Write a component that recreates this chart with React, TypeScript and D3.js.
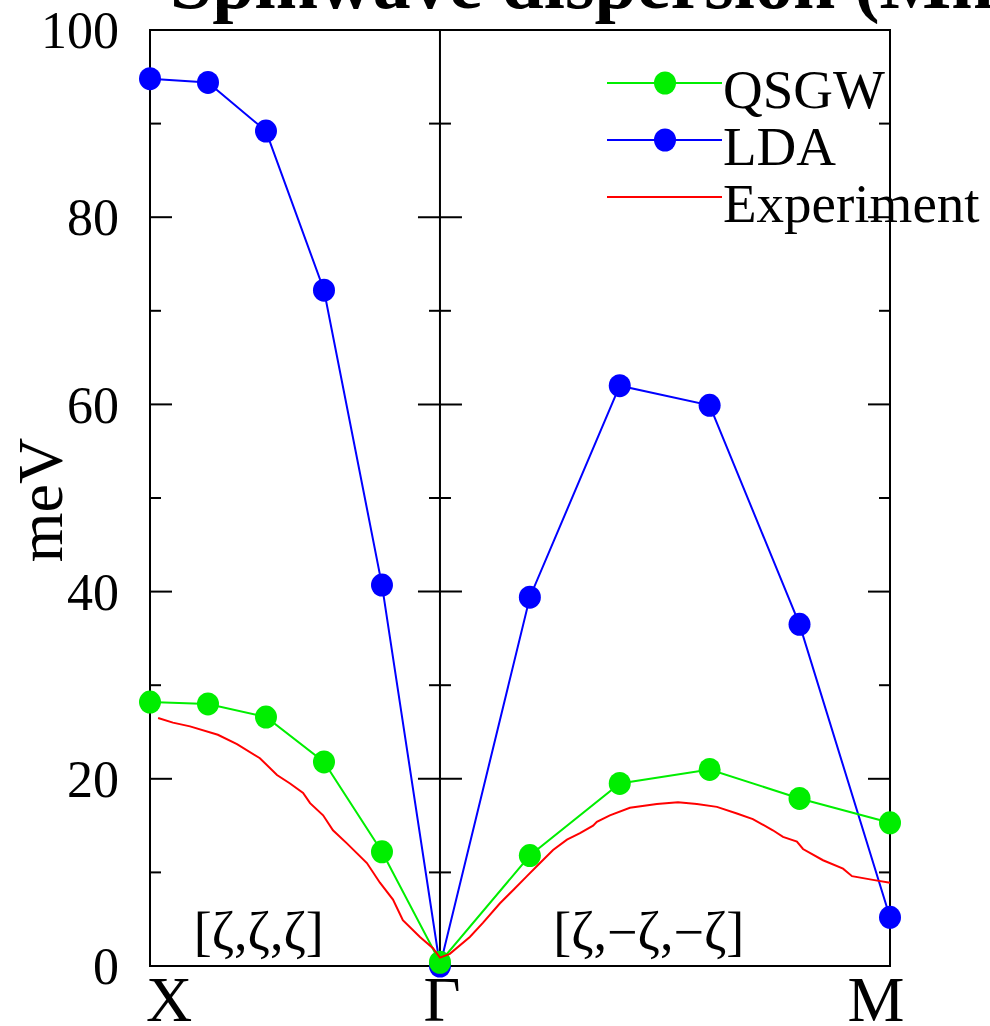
import { useRef, useEffect } from 'react';
import * as d3 from 'd3';

// path coordinate: X = 0, Gamma = 1, M = 2.552
const kPoints = [0, 0.2, 0.4, 0.6, 0.8, 1.0, 1.31, 1.62, 1.93, 2.24, 2.552];
const ldaValues = [94.8, 94.4, 89.2, 72.2, 40.7, 0.0, 39.4, 62.0, 59.9, 36.5, 5.2];
const qsgwValues = [28.2, 28.0, 26.6, 21.8, 12.2, 0.4, 11.8, 19.5, 21.0, 17.9, 15.3];

const expK = [0.028, 0.079, 0.138, 0.234, 0.300, 0.379, 0.438, 0.483, 0.528, 0.552, 0.597, 0.631,
  0.679, 0.748, 0.793, 0.838, 0.872, 0.931, 0.976, 1.0,
  1.034, 1.103, 1.148, 1.207, 1.252, 1.300, 1.345, 1.390, 1.438, 1.483, 1.528, 1.541, 1.586,
  1.655, 1.748, 1.821, 1.886, 1.955, 2.024, 2.079, 2.148, 2.183, 2.231, 2.252, 2.321, 2.390,
  2.421, 2.493, 2.552];
const expValues = [26.5, 26.0, 25.6, 24.7, 23.7, 22.2, 20.4, 19.5, 18.5, 17.4, 16.1, 14.5,
  13.1, 11.0, 8.9, 7.1, 4.9, 3.1, 1.9, 0.9,
  1.3, 3.1, 4.6, 6.7, 8.1, 9.6, 11.0, 12.4, 13.5, 14.2, 15.0, 15.4, 16.1,
  16.9, 17.3, 17.5, 17.3, 17.0, 16.3, 15.7, 14.5, 13.8, 13.3, 12.5, 11.3, 10.4,
  9.6, 9.2, 8.9];

const symmetryLabels = ['X', 'Γ', 'M'];
const symmetryK = [0, 1, 2.552];
const majorTicks = [0, 20, 40, 60, 80, 100];
const minorTicks = [10, 30, 50, 70, 90];
const directionLabels = ['[ζ,ζ,ζ]', '[ζ,−ζ,−ζ]'];
const directionK = [0.375, 1.72];
const legendNames = ['QSGW', 'LDA', 'Experiment'];
const legendColors = ['#00ee00', '#0000ff', '#ff0000'];

const FONT = '"Liberation Serif", "Times New Roman", serif';

function App() {
  const svgRef = useRef<SVGSVGElement>(null);

  useEffect(() => {
    const svg = d3.select(svgRef.current);
    svg.selectAll('*').remove();

    const left = 150, right = 890, top = 30, bottom = 966;

    const x = d3.scaleLinear().domain([0, 2.552]).range([left, right]);
    const y = d3.scaleLinear().domain([0, 100]).range([bottom, top]);

    const g = svg.append('g');

    // title (cut off at the top)
    g.append('text')
      .attr('x', 170).attr('y', 8)
      .attr('font-family', FONT).attr('font-weight', 'bold').attr('font-size', 76)
      .text('Spinwave dispersion (MnO)');

    // frame
    g.append('rect')
      .attr('x', left).attr('y', top)
      .attr('width', right - left).attr('height', bottom - top)
      .attr('fill', 'none').attr('stroke', '#000').attr('stroke-width', 2);

    // Gamma line
    g.append('line')
      .attr('x1', x(1)).attr('x2', x(1)).attr('y1', top).attr('y2', bottom)
      .attr('stroke', '#000').attr('stroke-width', 2);

    // ticks
    const tickSets = [
      { vals: majorTicks, len: 22 },
      { vals: minorTicks, len: 11 },
    ];
    tickSets.forEach(({ vals, len }) => {
      vals.forEach(v => {
        const yy = y(v);
        [[left, left + len], [x(1) - len, x(1) + len], [right - len, right]].forEach(([a, b]) => {
          g.append('line')
            .attr('x1', a).attr('x2', b).attr('y1', yy).attr('y2', yy)
            .attr('stroke', '#000').attr('stroke-width', 2);
        });
      });
    });

    // y tick labels
    g.selectAll('.ylab')
      .data(majorTicks)
      .enter()
      .append('text')
      .attr('x', 119).attr('y', d => y(d)).attr('dy', '0.35em')
      .attr('text-anchor', 'end')
      .attr('font-family', FONT).attr('font-size', 52)
      .text(d => d);

    // y axis label
    g.append('text')
      .attr('transform', 'translate(62,500) rotate(-90)')
      .attr('text-anchor', 'middle')
      .attr('font-family', FONT).attr('font-size', 64)
      .text('meV');

    // symmetry point labels
    const symOffset = [19, 2, -14];
    g.selectAll('.xlab')
      .data(symmetryLabels)
      .enter()
      .append('text')
      .attr('x', (d, i) => x(symmetryK[i]) + symOffset[i]).attr('y', 1021)
      .attr('text-anchor', 'middle')
      .attr('font-family', FONT).attr('font-size', 64)
      .text(d => d);

    // direction labels
    g.selectAll('.dirlab')
      .data(directionLabels)
      .enter()
      .append('text')
      .attr('x', (d, i) => x(directionK[i])).attr('y', 950)
      .attr('text-anchor', 'middle')
      .attr('font-family', FONT).attr('font-size', 54)
      .text(d => d);

    const line = d3.line<[number, number]>()
      .x(d => x(d[0])).y(d => y(d[1]));

    const ldaData = kPoints.map((k, i) => [k, ldaValues[i]] as [number, number]);
    const qsgwData = kPoints.map((k, i) => [k, qsgwValues[i]] as [number, number]);
    const expData = expK.map((k, i) => [k, expValues[i]] as [number, number]);

    // LDA
    g.append('path').datum(ldaData)
      .attr('d', line).attr('fill', 'none')
      .attr('stroke', legendColors[1]).attr('stroke-width', 2);
    g.selectAll('.lda')
      .data(ldaData)
      .enter()
      .append('ellipse')
      .attr('cx', d => x(d[0])).attr('cy', d => y(d[1]))
      .attr('rx', 11).attr('ry', 11.5)
      .attr('fill', legendColors[1]);

    // QSGW
    g.append('path').datum(qsgwData)
      .attr('d', line).attr('fill', 'none')
      .attr('stroke', legendColors[0]).attr('stroke-width', 2);
    g.selectAll('.qsgw')
      .data(qsgwData)
      .enter()
      .append('ellipse')
      .attr('cx', d => x(d[0])).attr('cy', d => y(d[1]))
      .attr('rx', 11).attr('ry', 11.5)
      .attr('fill', legendColors[0]);

    // Experiment
    g.append('path').datum(expData)
      .attr('d', line).attr('fill', 'none')
      .attr('stroke', legendColors[2]).attr('stroke-width', 2);

    // legend
    legendNames.forEach((name, i) => {
      const ly = 83 + i * 57;
      g.append('line')
        .attr('x1', 607).attr('x2', 722).attr('y1', ly).attr('y2', ly)
        .attr('stroke', legendColors[i]).attr('stroke-width', 2);
      if (i < 2) {
        g.append('ellipse')
          .attr('cx', 665).attr('cy', ly).attr('rx', 11).attr('ry', 11.5)
          .attr('fill', legendColors[i]);
      }
      g.append('text')
        .attr('x', 723).attr('y', ly + 25)
        .attr('font-family', FONT).attr('font-size', 55)
        .text(name);
    });
  }, []);

  return (
    <svg ref={svgRef} width={990} height={1026}
      style={{ position: 'absolute', left: 0, top: 0, background: '#fff' }} />
  );
}

export default App;
